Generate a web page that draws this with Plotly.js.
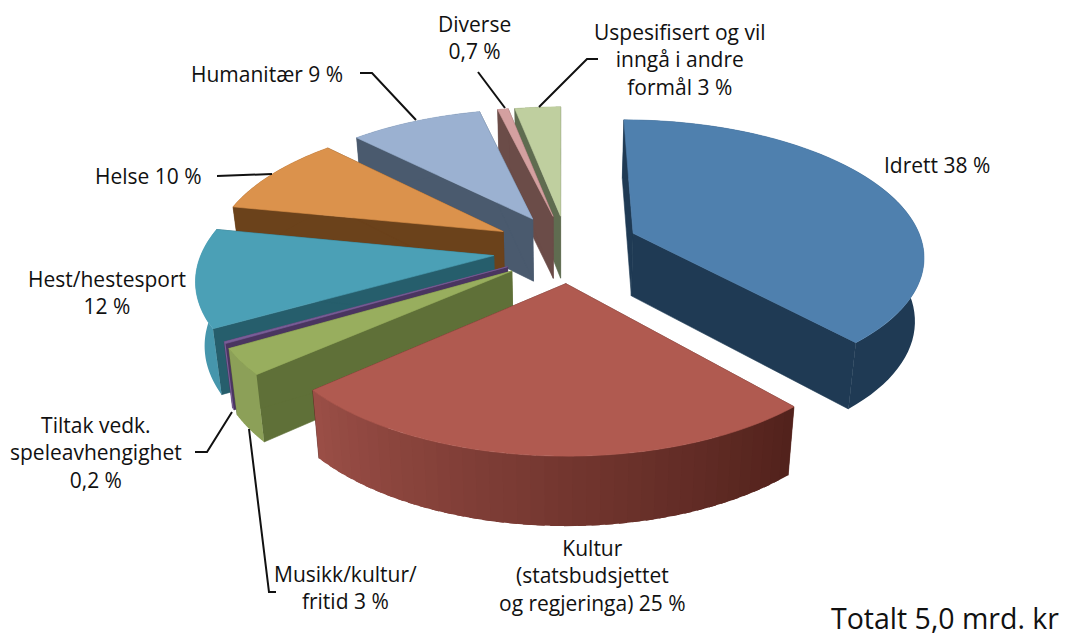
<!DOCTYPE html>
<html>
<head>
<meta charset="utf-8">
<script src="https://cdn.plot.ly/plotly-3.0.1.min.js"></script>
<style>html,body{margin:0;padding:0;background:#fff}#chart{width:1067px;height:636px}</style>
</head>
<body>
<div id="chart"></div>
<script>
// Data, clockwise from 12 o'clock. Shares are slice sizes.
const categories = ["Idrett","Kultur","Musikk/kultur/fritid","Tiltak vedk. speleavhengighet","Hest/hestesport","Helse","Humanitær","Diverse","Uspesifisert"];
const shares = [38.5, 25.2, 3, 0.2, 11.4, 9.5, 8.7, 0.7, 3];

// Per-slice pull-out from the pie centre (fraction of radius) and its direction offset (degrees)
const explode = [0.27, 0.27, 0.245, 0.235, 0.24, 0.23, 0.23, 0.23, 0.23];
const explodeTurn = [0, -7, -12, -10, -8, 0, 3, 5, 5];
const topColors = ["#4F80AE","#B05A50","#98AE5E","#7A5E98","#4BA0B6","#DB924C","#9BB1D1","#D4A0A0","#BFCF9F"];
const faceColors = ["#1F3A54","#52221C","#5F7038","#4A3560","#265E6C","#6B421B","#4A5A6E","#6B4C48","#5F6C50"];
const sideStart = [[31,58,84],[82,34,28],[140,160,88],[122,94,152],[70,150,172],[107,66,27],[74,90,110],[107,76,72],[95,108,80]];
const sideEnd = [[31,58,84],[154,78,70],[140,160,88],[122,94,152],[70,150,172],[107,66,27],[74,90,110],[107,76,72],[95,108,80]];
const drawOrder = [8,7,6,5,4,3,2,0,1];

// Projection of the tilted pie onto the page (perspective)
const cx = 561, cy = 246, Rx = 290, Ry = 134, k = 0.15, depth = 63, converge = 0.975;
function project(u, v, down) {
  const p = 1 / (1 + k * v);
  let X = cx + Rx * u * p, Y = cy - Ry * v * p;
  if (down) { X = cx + (X - cx) * converge; Y += depth * Math.sqrt(p); }
  return [X, Y];
}

const total = shares.reduce((a, b) => a + b, 0);
const slices = [];
let acc = 0;
shares.forEach((s, i) => {
  const a0 = acc / total * 2 * Math.PI;
  acc += s;
  const a1 = acc / total * 2 * Math.PI;
  const mid = (a0 + a1) / 2 + explodeTurn[i] * Math.PI / 180;
  slices.push({i, a0, a1, ou: explode[i] * Math.sin(mid), ov: explode[i] * Math.cos(mid)});
});

const traces = [];
function poly(pts, color, name, lw) {
  const x = pts.map(p => p[0]), y = pts.map(p => p[1]);
  x.push(x[0]); y.push(y[0]);
  traces.push({type:"scatter", mode:"lines", x, y, fill:"toself", fillcolor:color,
    line:{color, width: lw === undefined ? 0.6 : lw, simplify:false}, hoverinfo:"text", text:name, showlegend:false});
}
function rim(s, a) { return [s.ou + Math.sin(a), s.ov + Math.cos(a)]; }

drawOrder.forEach(idx => {
  const s = slices[idx], name = categories[idx];
  const A = [s.ou, s.ov], B = rim(s, s.a0), C = rim(s, s.a1);
  [B, C].forEach(E => {
    poly([project(A[0],A[1]), project(E[0],E[1]), project(E[0],E[1],true), project(A[0],A[1],true)], faceColors[idx], name);
  });
  // outer rim: split into strips only where its shade changes along the arc
  const graded = sideStart[idx].join() !== sideEnd[idx].join();
  const n = graded ? Math.round((s.a1 - s.a0) / 0.04) : 1;
  for (let j = 0; j < n; j++) {
    const sub = graded ? 1 : 60;
    const t0 = s.a0 + (s.a1 - s.a0) * j / n;
    const t1 = s.a0 + (s.a1 - s.a0) * Math.min(1, (j + 1.6) / n);
    const f = n > 1 ? j / (n - 1) : 0;
    const col = "rgb(" + sideStart[idx].map((v, q) => Math.round(v * (1 - f) + sideEnd[idx][q] * f)).join(",") + ")";
    const upper = [], lower = [];
    for (let q = 0; q <= sub; q++) {
      const R = rim(s, t0 + (t1 - t0) * q / sub);
      upper.push(project(R[0],R[1]));
      lower.unshift(project(R[0],R[1],true));
    }
    poly(upper.concat(lower), col, name, 0);
  }
  // top
  const top = [project(A[0],A[1])];
  const m = Math.max(2, Math.round((s.a1 - s.a0) / 0.02));
  for (let j = 0; j <= m; j++) {
    const R = rim(s, s.a0 + (s.a1 - s.a0) * j / m);
    top.push(project(R[0],R[1]));
  }
  poly(top, topColors[idx], name);
});

const font = {family:"'Open Sans', 'Noto Sans', sans-serif", size:21, color:"#111"};
function label(x, y, text, size) {
  return {xref:"x", yref:"y", x, y, text, showarrow:false, align:"center", xanchor:"center", yanchor:"middle",
    font: size ? Object.assign({}, font, {size}) : font};
}
const annotations = [
  label(474, 37, "Diverse<br>0,7 %"),
  label(680, 59, "Uspesifisert og vil<br>inngå i andre<br>formål 3 %"),
  label(267, 74, "Humanitær 9 %"),
  label(148, 176, "Helse 10 %"),
  label(937, 165, "Idrett 38 %"),
  label(107, 292, "Hest/hestesport<br>12 %"),
  label(96, 452, "Tiltak vedk.<br>speleavhengighet<br>0,2 %"),
  label(345, 587, "Musikk/kultur/<br>fritid 3 %"),
  label(592, 575, "Kultur<br>(statsbudsjettet<br>og regjeringa) 25 %"),
  label(945, 618, "Totalt 5,0 mrd. kr", 28.5)
];
function leader(pts) {
  return {type:"path", xref:"x", yref:"y", path:"M" + pts.map(p => p.join(",")).join("L"),
    line:{color:"#111", width:2}, fillcolor:"rgba(0,0,0,0)"};
}
const shapes = [
  leader([[360,73],[372,73],[416,120]]),
  leader([[478,72],[505,108]]),
  leader([[598,59],[587,59],[539,107]]),
  leader([[217,176],[272,174]]),
  leader([[195,452],[207,452],[232,412]]),
  leader([[276,592],[269,592],[249,429]])
];

const layout = {
  width:1067, height:636, margin:{l:0,r:0,t:0,b:0}, paper_bgcolor:"#fff", plot_bgcolor:"#fff",
  showlegend:false, annotations, shapes,
  xaxis:{range:[0,1067], visible:false, fixedrange:true},
  yaxis:{range:[636,0], visible:false, fixedrange:true}
};
Plotly.newPlot("chart", traces, layout, {displayModeBar:false, staticPlot:true});
</script>
</body>
</html>
